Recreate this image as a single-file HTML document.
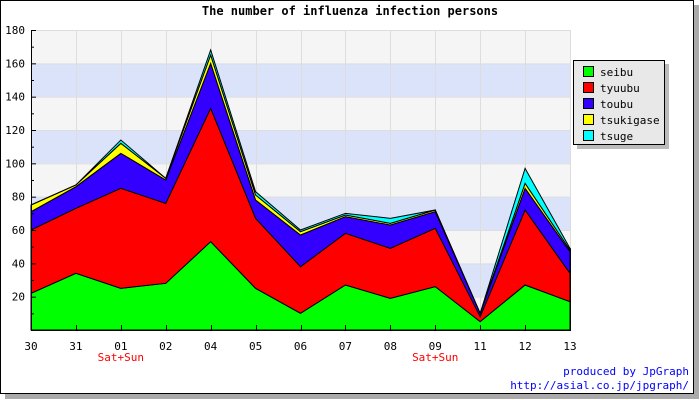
<!DOCTYPE html>
<html><head><meta charset="utf-8"><style>
html,body{margin:0;padding:0;background:#fff;}
svg{display:block;font-family:"DejaVu Sans Mono","Liberation Mono",monospace;}
</style></head><body>
<svg id="chart" width="700" height="400">
<rect x="0" y="0" width="700" height="400" fill="#fff"/>
<rect x="5" y="5" width="694" height="394" fill="#aaa"/>
<rect x="0.5" y="0.5" width="693" height="393" fill="#fff" stroke="#000"/>
<text x="350" y="15" text-anchor="middle" font-size="12" font-weight="bold">The number of influenza infection persons</text>
<g id="bands"></g>
<g id="grid"></g>
<g id="areas"></g>
<g id="axes"></g>
<g>
<rect x="577" y="64" width="92" height="85" fill="#bbb"/>
<rect x="573.5" y="60.5" width="91" height="84" fill="#e8e8e8" stroke="#000"/>
<g id="legend-items"></g>
</g>
<text x="689" y="375" text-anchor="end" font-size="11" fill="#0000ff">produced by JpGraph</text>
<text x="689" y="389" text-anchor="end" font-size="11" fill="#0000ff">http://asial.co.jp/jpgraph/</text>
</svg>
<script>
const categories=["30","31","01","02","04","05","06","07","08","09","11","12","13"];
const subLabels=["","","Sat+Sun","","","","","","","Sat+Sun","","",""];
const seibu=[22,34,25,28,53,25,10,27,19,26,5,27,17];
const tyuubu=[38,39,60,48,80,42,28,31,30,35,3,45,17];
const toubu=[11,13,21,14,27,11,19,10,14,10,2,13,13];
const tsukigase=[4,1,6,1,5,3,2,1,1,1,0,3,1];
const tsuge=[0,0,2,0,3,2,1,1,3,0,0,9,1];
const yTicks=[20,40,60,80,100,120,140,160,180];
const seriesNames=["seibu","tyuubu","toubu","tsukigase","tsuge"];
const seriesColors=["#00ff00","#ff0000","#3300ff","#ffff00","#00ffff"];

const NS="http://www.w3.org/2000/svg";
const L=31,R=570,T=30,B=330,YMAX=180;
const xs=i=>L+i*(R-L)/(categories.length-1);
const ys=v=>B-v*(B-T)/YMAX;
function mk(tag,attrs,parent){const e=document.createElementNS(NS,tag);for(const k in attrs)e.setAttribute(k,attrs[k]);parent.appendChild(e);return e;}
const bands=document.getElementById('bands'),grid=document.getElementById('grid'),areas=document.getElementById('areas'),axes=document.getElementById('axes'),leg=document.getElementById('legend-items');
for(let v=0;v<YMAX;v+=20){
  const r=mk('rect',{x:L,y:ys(v+20),width:R-L,height:ys(v)-ys(v+20),fill:((v/20)%2===1)?'#dae3fa':'#f5f5f5'},bands);
  
  
}
yTicks.forEach(v=>{const l=mk('line',{x1:L,x2:R,y1:ys(v)+0.5,y2:ys(v)+0.5,stroke:'#ddd'},grid);
  
  });
categories.forEach((c,i)=>{const l=mk('line',{x1:Math.round(xs(i))+0.5,x2:Math.round(xs(i))+0.5,y1:T,y2:B,stroke:'#ddd'},grid);
  
  });
const all=[seibu,tyuubu,toubu,tsukigase,tsuge];
let base=categories.map(()=>0);
all.forEach((s,k)=>{
  const top=base.map((b,i)=>b+s[i]);
  let d='M'+categories.map((c,i)=>xs(i)+','+ys(top[i])).join(' L');
  for(let i=categories.length-1;i>=0;i--)d+=' L'+xs(i)+','+ys(base[i]);
  d+='Z';
  const p=mk('path',{d:d,fill:seriesColors[k],stroke:'#000','stroke-width':1},areas);
  
  
  base=top;
});
const ya=mk('line',{x1:L+0.5,x2:L+0.5,y1:T,y2:B,stroke:'#000'},axes);


const xa=mk('line',{x1:L,x2:R+1,y1:B+0.5,y2:B+0.5,stroke:'#000'},axes);


const ra=mk('line',{x1:R+0.5,x2:R+0.5,y1:ys(Math.max(0,base[base.length-1])),y2:B,stroke:'#000'},axes);


for(let v=10;v<=YMAX;v+=10){
  const t=mk('line',{x1:L,x2:L+(v%20===0?5:3),y1:ys(v)+0.5,y2:ys(v)+0.5,stroke:'#000'},axes);
  
  
}
yTicks.forEach(v=>{const t=mk('text',{x:L-6,y:ys(v)+4,'text-anchor':'end','font-size':11},axes);t.textContent=v;
  
  });
categories.forEach((c,i)=>{
  const tk=mk('line',{x1:Math.round(xs(i))+0.5,x2:Math.round(xs(i))+0.5,y1:B-5,y2:B,stroke:'#000'},axes);
  
  
  const t=mk('text',{x:xs(i),y:350,'text-anchor':'middle','font-size':11},axes);t.textContent=c;
  
  
  if(subLabels[i]){const s=mk('text',{x:xs(i),y:361,'text-anchor':'middle','font-size':11,fill:'#ff0000'},axes);s.textContent=subLabels[i];
    
    }
});
seriesNames.forEach((n,k)=>{
  const y=66+k*16;
  const r=mk('rect',{x:583.5,y:y+0.5,width:10,height:10,fill:seriesColors[k],stroke:'#000'},leg);
  
  
  const t=mk('text',{x:600,y:y+10,'font-size':11},leg);t.textContent=n;
  
  
});
</script>
</body></html>
